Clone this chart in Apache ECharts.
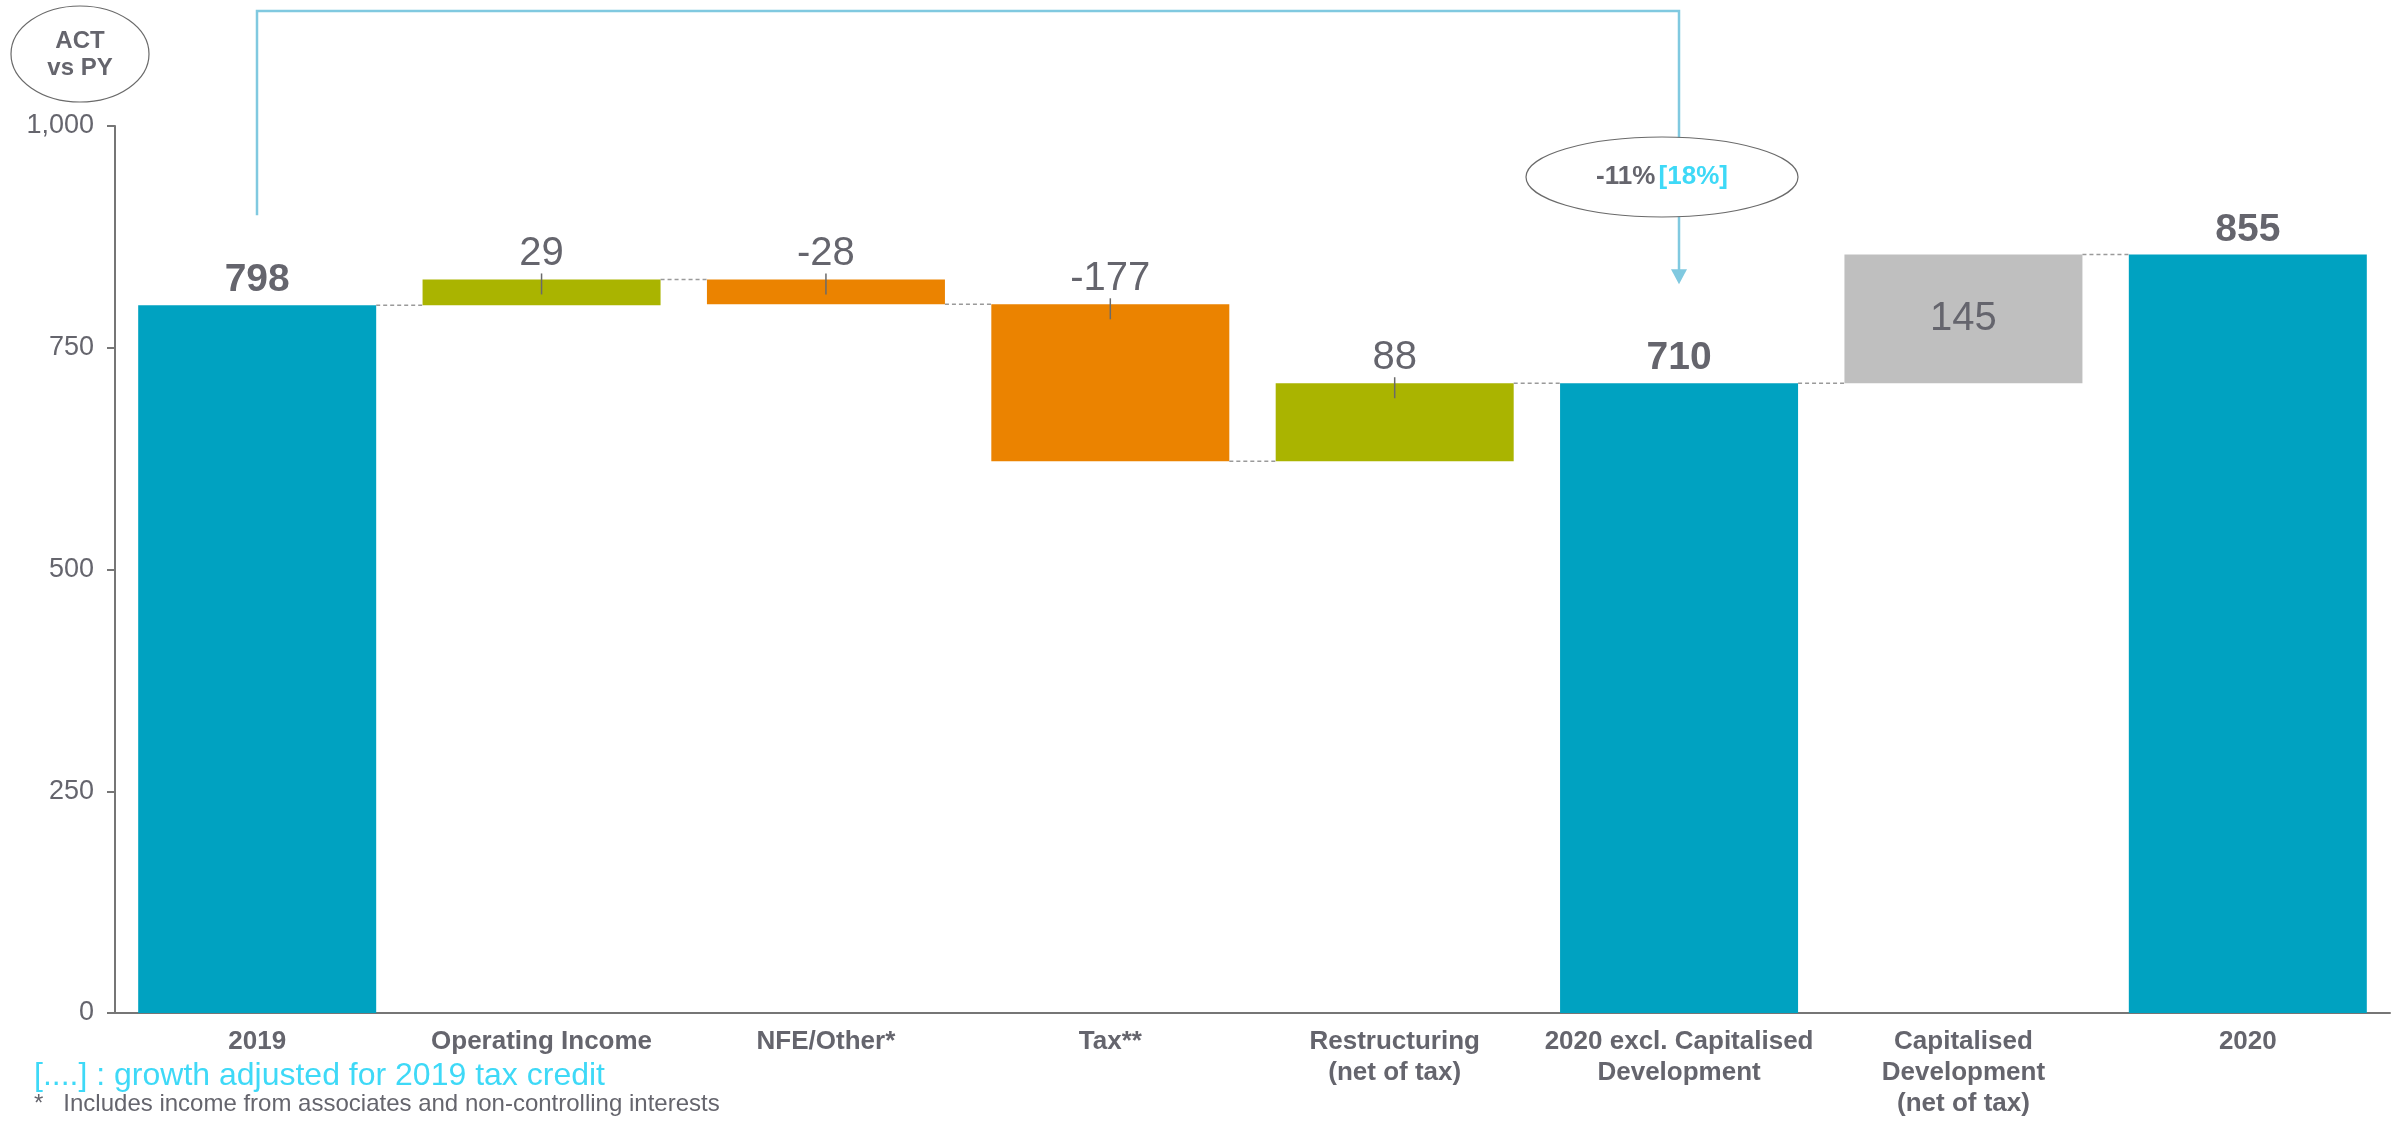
<!DOCTYPE html>
<html>
<head>
<meta charset="utf-8">
<script src="https://cdn.jsdelivr.net/npm/echarts@6/dist/echarts.min.js"></script>
<style>
html,body{margin:0;padding:0;background:#fff;}
#main{width:2399px;height:1121px;}
</style>
</head>
<body>
<div id="main"></div>
<script>
// ---- data ----
var categories = ['2019', 'Operating Income', 'NFE/Other*', 'Tax**', 'Restructuring\n(net of tax)',
  '2020 excl. Capitalised\nDevelopment', 'Capitalised\nDevelopment\n(net of tax)', '2020'];
var values = [798, 29, -28, -177, 88, 710, 145, 855];
var kinds = ['total', 'delta', 'delta', 'delta', 'delta', 'total', 'delta', 'total'];
var yTicks = [0, 250, 500, 750, 1000];
var growthMain = '-11%';
var growthAdj = '[18%]';
var footnote1 = '[....] : growth adjusted for 2019 tax credit';
var footnote2 = '*   Includes income from associates and non-controlling interests';

// ---- styles ----
var TEAL = '#00A2C1', GREEN = '#AAB400', ORANGE = '#EB8300', GREY = '#BFBFBF';
var TXT = '#65656d', AX = '#767676', ARROW = '#80C9E0', CYAN = '#3ED9F7';
var FONT = '"Liberation Sans", Arial, sans-serif';
var BAR_W = 238;

// ---- derived waterfall ----
var base = [], height = [], levels = [], tops = [];
var running = 0;
values.forEach(function (v, i) {
  if (kinds[i] === 'total') {
    base.push(0); height.push(v); running = v; tops.push(v);
  } else {
    var prev = running; running = prev + v;
    base.push(Math.min(prev, running)); height.push(Math.abs(v)); tops.push(Math.max(prev, running));
  }
  levels.push(running);
});
function colorFor(i) {
  if (kinds[i] === 'total') return TEAL;
  if (i === 6) return GREY;
  return values[i] >= 0 ? GREEN : ORANGE;
}

var visData = height.map(function (h, i) {
  var isTotal = kinds[i] === 'total';
  var inside = (i === 6);
  return {
    value: h,
    itemStyle: { color: colorFor(i) },
    label: {
      show: true,
      position: inside ? 'inside' : 'top',
      distance: isTotal ? 5 : 5,
      fontSize: isTotal ? 39 : 40,
      fontWeight: isTotal ? 'bold' : 'normal',
      color: TXT,
      fontFamily: FONT,
      formatter: String(values[i])
    }
  };
});

var connData = [];
for (var i = 0; i < levels.length - 1; i++) connData.push([i, levels[i]]);
var tickData = [];
for (var j = 1; j <= 4; j++) tickData.push([j, tops[j]]);

var chart = echarts.init(document.getElementById('main'), null, { renderer: 'canvas' });
var option = {
  animation: false,
  backgroundColor: '#fff',
  textStyle: { fontFamily: FONT },
  grid: { left: 115, right: 9, top: 126, bottom: 108, containLabel: false },
  xAxis: {
    type: 'category',
    data: categories,
    axisLine: { show: true, lineStyle: { color: AX, width: 2 } },
    axisTick: { show: false },
    axisLabel: {
      interval: 0, margin: 13, color: TXT, fontSize: 26, fontWeight: 'bold',
      fontFamily: FONT, lineHeight: 31, align: 'center'
    },
    splitLine: { show: false }
  },
  yAxis: {
    type: 'value', min: 0, max: 1000, interval: 250,
    axisLine: { show: true, lineStyle: { color: AX, width: 2 } },
    axisTick: { show: true, inside: false, length: 8, lineStyle: { color: AX, width: 2 } },
    axisLabel: {
      margin: 21, color: TXT, fontSize: 27, fontFamily: FONT,
      formatter: function (v) { return yTicks.indexOf(v) >= 0 ? v.toLocaleString('en-US') : ''; }
    },
    splitLine: { show: false }
  },
  series: [
    {
      type: 'bar', stack: 'wf', barWidth: BAR_W, silent: true,
      itemStyle: { color: 'transparent' }, data: base
    },
    {
      type: 'bar', stack: 'wf', barWidth: BAR_W, data: visData
    },
    {
      type: 'custom', silent: true, z: 5,
      renderItem: function (params, api) {
        var idx = api.value(0);
        var p1 = api.coord([idx, api.value(1)]);
        var p2 = api.coord([idx + 1, api.value(1)]);
        var half = BAR_W / 2;
        return {
          type: 'line',
          shape: { x1: p1[0] + half, y1: p1[1], x2: p2[0] - half, y2: p2[1] },
          style: { stroke: '#9a9a9a', lineWidth: 1.5, lineDash: [4, 3] }
        };
      },
      data: connData
    },
    {
      type: 'custom', silent: true, z: 6,
      renderItem: function (params, api) {
        var p = api.coord([api.value(0), api.value(1)]);
        return {
          type: 'line',
          shape: { x1: p[0], y1: p[1] - 6, x2: p[0], y2: p[1] + 15 },
          style: { stroke: '#6a6a6a', lineWidth: 1.5 }
        };
      },
      data: tickData
    }
  ]
};
chart.setOption(option);

// ---- annotations ----
var pL = chart.convertToPixel({ gridIndex: 0 }, [0, values[0]]);
var pR = chart.convertToPixel({ gridIndex: 0 }, [5, values[5]]);
var xL = Math.round(pL[0]), xR = Math.round(pR[0]);
var yTopLine = 11;
var yLeftEnd = pL[1] - 90;
var yTip = pR[1] - 99;

chart.setOption({
  graphic: [
    {
      type: 'polyline', silent: true,
      shape: { points: [[xL, yLeftEnd], [xL, yTopLine], [xR, yTopLine], [xR, yTip - 14]] },
      style: { stroke: ARROW, lineWidth: 2.5, fill: null }
    },
    {
      type: 'polygon', silent: true,
      shape: { points: [[xR - 8, yTip - 15], [xR + 8, yTip - 15], [xR, yTip]] },
      style: { fill: ARROW }
    },
    {
      type: 'ellipse', silent: true,
      shape: { cx: xR - 17, cy: 177, rx: 136, ry: 40 },
      style: { fill: '#fff', stroke: '#6a6a6a', lineWidth: 1.2 }
    },
    {
      type: 'text', silent: true, x: xR - 17, y: 177,
      style: {
        text: '{a|' + growthMain + '} {b|' + growthAdj + '}',
        align: 'center', verticalAlign: 'middle',
        rich: {
          a: { fontSize: 26, fontWeight: 'bold', fill: TXT, fontFamily: FONT },
          b: { fontSize: 26, fontWeight: 'bold', fill: CYAN, fontFamily: FONT }
        }
      }
    },
    {
      type: 'ellipse', silent: true,
      shape: { cx: 80, cy: 54, rx: 69, ry: 48 },
      style: { fill: '#fff', stroke: '#6a6a6a', lineWidth: 1.2 }
    },
    {
      type: 'text', silent: true, x: 80, y: 55,
      style: {
        text: 'ACT\nvs PY', align: 'center', verticalAlign: 'middle',
        fontSize: 24, fontWeight: 'bold', fill: TXT, fontFamily: FONT, lineHeight: 27
      }
    },
    {
      type: 'text', silent: true, x: 34, y: 1076,
      style: { text: footnote1, fontSize: 32, fill: CYAN, fontFamily: FONT, verticalAlign: 'middle' }
    },
    {
      type: 'text', silent: true, x: 34, y: 1104,
      style: { text: footnote2, fontSize: 24, fill: TXT, fontFamily: FONT, verticalAlign: 'middle' }
    }
  ]
});
</script>
</body>
</html>
